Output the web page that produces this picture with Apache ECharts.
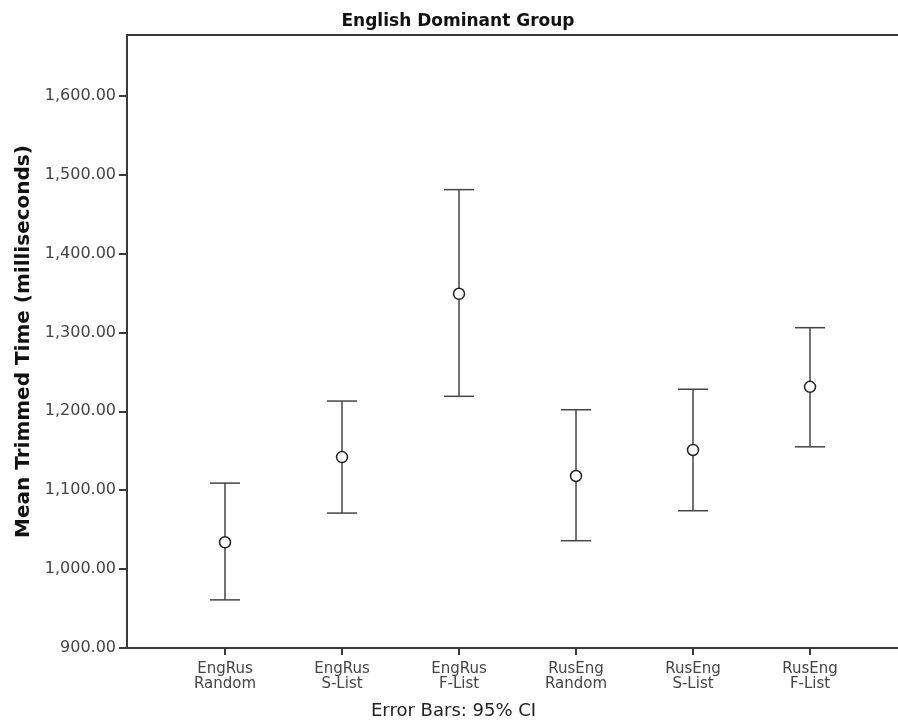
<!DOCTYPE html>
<html>
<head>
<meta charset="utf-8">
<script src="https://cdn.jsdelivr.net/npm/echarts@6/dist/echarts.min.js"></script>
<style>html,body{margin:0;padding:0;background:#fff;}#c{width:898px;height:727px;}</style>
</head>
<body>
<div id="c"></div>
<script>
const categories = ['EngRus\nRandom', 'EngRus\nS-List', 'EngRus\nF-List', 'RusEng\nRandom', 'RusEng\nS-List', 'RusEng\nF-List'];
const means = [1034, 1142, 1349, 1118, 1151, 1231];
const lowerCI = [961, 1071, 1219, 1036, 1074, 1155];
const upperCI = [1109, 1213, 1481, 1202, 1228, 1306];
const yTicks = [900, 1000, 1100, 1200, 1300, 1400, 1500, 1600];
const xPositions = [1, 2, 3, 4, 5, 6];

const chart = echarts.init(document.getElementById('c'));
const font = 'DejaVu Sans';
const axisColor = '#3a3a3a';

const errData = xPositions.map((x, i) => [x, lowerCI[i], upperCI[i]]);
const meanData = xPositions.map((x, i) => [x, means[i]]);

chart.setOption({
  animation: false,
  backgroundColor: '#fff',
  title: {
    text: 'English Dominant Group',
    left: 453, top: 8, textAlign: 'center',
    textStyle: { fontFamily: font, fontSize: 17, fontWeight: 'bold', color: '#111' }
  },
  graphic: [{
    type: 'text', left: 371, top: 702,
    style: { text: 'Error Bars: 95% CI', font: '18px "DejaVu Sans"', fill: '#222' }
  }],
  grid: { left: 127, top: 35, right: 0, bottom: 79, containLabel: false, outerBoundsMode: 'none' },
  xAxis: [{
    type: 'value', min: 0.1624, max: 6.752, position: 'bottom',
    splitLine: { show: false },
    axisLine: { show: true, lineStyle: { color: axisColor, width: 2 } },
    axisTick: { show: true, customValues: xPositions, length: 7, lineStyle: { color: axisColor, width: 2 } },
    axisLabel: {
      customValues: xPositions,
      formatter: v => categories[Math.round(v) - 1] || '',
      fontFamily: font, fontSize: 15, color: '#444', lineHeight: 15, margin: 14
    }
  }, {
    type: 'value', min: 0.1624, max: 6.752, position: 'top',
    splitLine: { show: false },
    axisLine: { show: true, lineStyle: { color: axisColor, width: 2 } },
    axisTick: { show: false }, axisLabel: { show: false }
  }],
  yAxis: {
    type: 'value', min: 900, max: 1677, interval: 100,
    name: 'Mean Trimmed Time (milliseconds)',
    nameLocation: 'middle', nameGap: 93,
    nameTextStyle: { fontFamily: font, fontSize: 20, fontWeight: 'bold', color: '#111' },
    splitLine: { show: false },
    axisLine: { show: true, lineStyle: { color: axisColor, width: 2 } },
    axisTick: { show: true, customValues: yTicks, length: 8, lineStyle: { color: axisColor, width: 2 } },
    axisLabel: {
      customValues: yTicks,
      formatter: v => Number(v).toLocaleString('en-US', { minimumFractionDigits: 2, maximumFractionDigits: 2 }),
      fontFamily: font, fontSize: 16, color: '#444', margin: 11
    }
  },
  series: [{
    type: 'custom',
    data: errData,
    renderItem: (params, api) => {
      const x = api.value(0);
      const lo = api.coord([x, api.value(1)]);
      const hi = api.coord([x, api.value(2)]);
      const hw = 15;
      const style = { stroke: '#444', lineWidth: 1.5, fill: null };
      return {
        type: 'group',
        children: [
          { type: 'line', shape: { x1: lo[0], y1: lo[1], x2: hi[0], y2: hi[1] }, style },
          { type: 'line', shape: { x1: lo[0] - hw, y1: lo[1], x2: lo[0] + hw, y2: lo[1] }, style },
          { type: 'line', shape: { x1: hi[0] - hw, y1: hi[1], x2: hi[0] + hw, y2: hi[1] }, style }
        ]
      };
    },
    z: 2
  }, {
    type: 'scatter',
    data: meanData,
    symbol: 'circle', symbolSize: 11,
    itemStyle: { color: '#fff', borderColor: '#222', borderWidth: 1.5, opacity: 1 },
    z: 3
  }]
});
</script>
</body>
</html>
